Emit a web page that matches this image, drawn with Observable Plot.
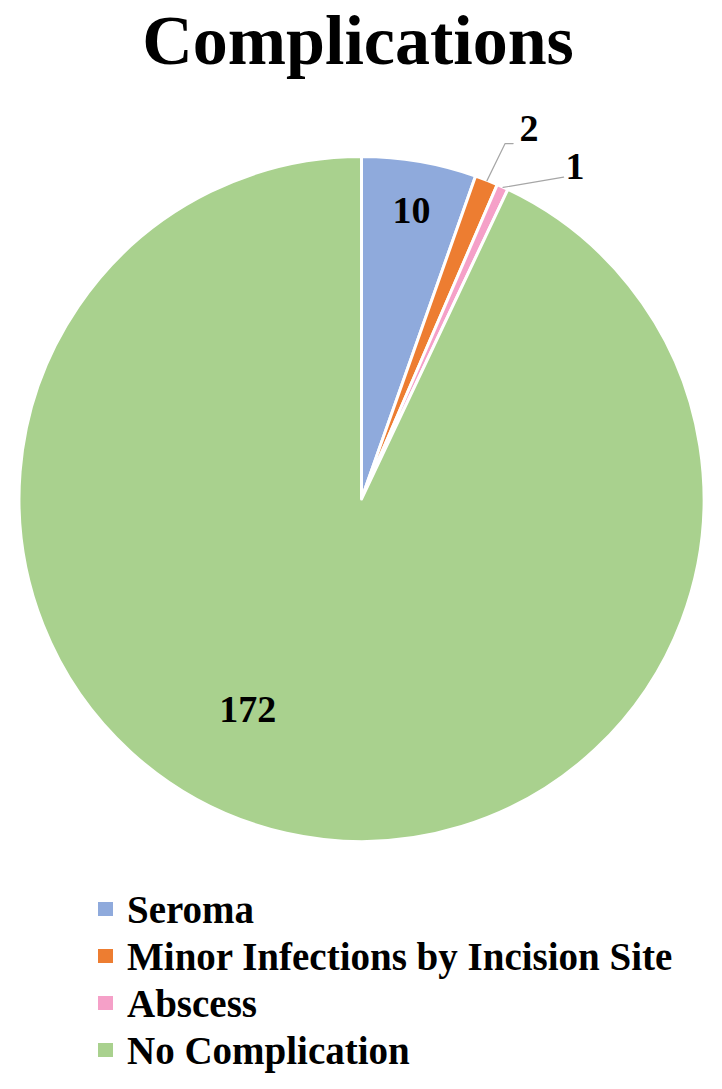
<!DOCTYPE html>
<html>
<head>
<meta charset="utf-8">
<script src="https://cdn.jsdelivr.net/npm/d3@7"></script>
<script src="https://cdn.jsdelivr.net/npm/@observablehq/plot@0.6"></script>
<style>
  html, body { margin: 0; padding: 0; background: #fff; }
  body { width: 722px; height: 1089px; position: relative; overflow: hidden;
         font-family: "Liberation Serif", "Times New Roman", serif; color: #000; }
  #title { position: absolute; left: 0; top: 6px; width: 716px; text-align: center;
           font-size: 70px; line-height: 70px; font-weight: bold; }
  #chart { position: absolute; left: 0; top: 100px; }
  .row { position: absolute; left: 98px; height: 47px; width: 620px; }
  .sw { position: absolute; left: 0; top: 16px; width: 15px; height: 14px; }
  .lt { position: absolute; left: 29px; top: 0; font-size: 39px; line-height: 47px;
        font-weight: bold; white-space: nowrap; }
</style>
</head>
<body>
<div id="title">Complications</div>
<div id="chart"></div>
<div id="legend"></div>
<script>
// ---- data ----
const categories = ["Seroma", "Minor Infections by Incision Site", "Abscess", "No Complication"];
const counts = [10, 2, 1, 172];
const colors = ["#8faadc", "#ed7d31", "#f5a0c8", "#a9d18e"];
const sliceLabels = ["10", "2", "1", "172"];

// ---- label placement (radius in pie-radius units, angle nudge in degrees, pixel offsets) ----
const labelLayout = [
  { r: 0.855, dA: 0,    leader: false },
  { r: 1.12,  dA: 0.5,  leader: true, tail: 8, dx: 6.5, dy: -15, anchor: "start" },
  { r: 1.11,  dA: 7.7,  leader: true, tail: 0, dx: 2,   dy: -10.5, anchor: "start" },
  { r: 0.70,  dA: 15.8, leader: false }
];

const R = 342.5; // pixel radius (used only to convert pixel nudges to data units)
const data = categories.map((c, i) => ({ category: c, value: counts[i], label: sliceLabels[i] }));
const arcs = d3.pie().sort(null).value(d => d.value)(data);
const colorScale = Plot.scale({ color: { type: "ordinal", domain: categories, range: colors } });

const polar = (r, a) => ({ x: r * Math.sin(a), y: r * Math.cos(a) });

const leaderPts = [];
const insideLabels = [];
const outsideLabels = [];
arcs.forEach((a, i) => {
  const L = labelLayout[i];
  const mid = (a.startAngle + a.endAngle) / 2;
  const ang = mid + L.dA * Math.PI / 180;
  if (L.leader) {
    const p0 = polar(1, mid);
    const p1 = polar(L.r, ang);
    const p2 = { x: p1.x + L.tail / R, y: p1.y };
    [p0, p1, p2].forEach((p, k) => leaderPts.push({ label: a.data.label, k, x: p.x, y: p.y }));
    outsideLabels.push({ label: a.data.label, x: p2.x + L.dx / R, y: p2.y - L.dy / R });
  } else {
    const p = polar(L.r, ang);
    insideLabels.push({ label: a.data.label, x: p.x, y: p.y });
  }
});

function pieMark(index, scales) {
  const cx = scales.x(0), cy = scales.y(0), r = scales.x(1) - scales.x(0);
  const arc = d3.arc().innerRadius(0).outerRadius(r);
  const g = d3.create("svg:g").attr("transform", `translate(${cx},${cy})`);
  g.selectAll("path").data(arcs).join("path")
    .attr("d", arc)
    .attr("fill", d => colorScale.apply(d.data.category))
    .attr("stroke", "#fff")
    .attr("stroke-width", 3)
    .attr("stroke-linejoin", "round");
  return g.node();
}

const font = { fontFamily: "Liberation Serif, Times New Roman, serif", fontWeight: "bold", fontSize: 38, fill: "#000" };

const chart = Plot.plot({
  width: 722,
  height: 770,
  marginLeft: 19,
  marginRight: 18,
  marginTop: 56.5,
  marginBottom: 28.5,
  x: { domain: [-1, 1], axis: null },
  y: { domain: [-1, 1], axis: null },
  style: { background: "transparent", overflow: "visible" },
  marks: [
    pieMark,
    Plot.line(leaderPts, { x: "x", y: "y", z: "label", stroke: "#a6a6a6", strokeWidth: 1.2 }),
    Plot.text(insideLabels, { x: "x", y: "y", text: "label", ...font }),
    Plot.text(outsideLabels, { x: "x", y: "y", text: "label", textAnchor: "start", ...font })
  ]
});
document.getElementById("chart").appendChild(chart);

// ---- legend ----
const legend = document.getElementById("legend");
categories.forEach((c, i) => {
  const row = document.createElement("div");
  row.className = "row";
  row.style.top = (886 + i * 47) + "px";
  const sw = document.createElement("div");
  sw.className = "sw";
  sw.style.background = colorScale.apply(c);
  const t = document.createElement("div");
  t.className = "lt";
  t.textContent = c;
  row.appendChild(sw);
  row.appendChild(t);
  legend.appendChild(row);
});
</script>
</body>
</html>
